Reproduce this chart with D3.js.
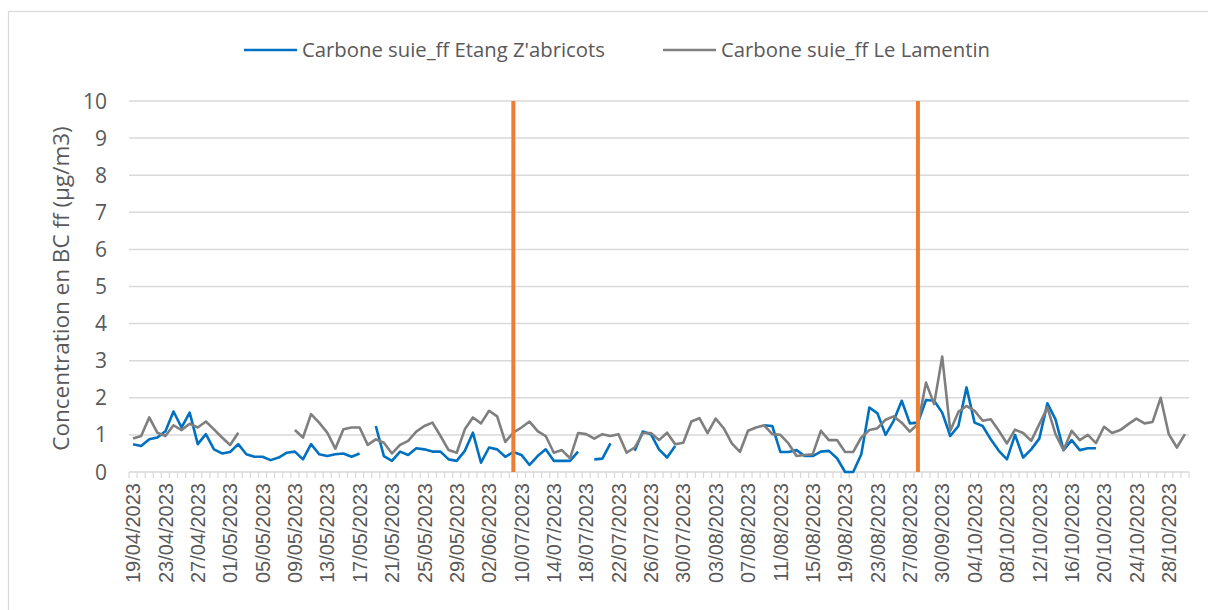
<!DOCTYPE html>
<html lang="fr">
<head>
<meta charset="UTF-8">
<title>Carbone suie ff</title>
<script src="https://d3js.org/d3.v7.min.js"></script>
<style>
  body { margin: 0; background: #fff; }
  svg { display: block; }
  .tick-x { font-family: "Liberation Sans", Arial, sans-serif; font-size: 20px; fill: #595959; }
  .tick-y { font-family: "Open Sans", sans-serif; font-size: 21px; fill: #595959; }
  .legend, .ytitle { font-family: "Open Sans", sans-serif; fill: #595959; }
</style>
</head>
<body>
<div id="chart"></div>
<script>
// date periods (dd/mm/yyyy), each one gives consecutive daily categories
const periods = [
  ["19/04/2023", "04/06/2023"],
  ["09/07/2023", "29/08/2023"],
  ["29/09/2023", "30/10/2023"]
];

// Carbone suie_ff Etang Z'abricots
const etang = [
  0.75, 0.70, 0.88, 0.93, 1.10, 1.63, 1.20, 1.60, 0.75, 1.02,
  0.61, 0.50, 0.54, 0.75, 0.48, 0.41, 0.41, 0.32, 0.39, 0.52,
  0.55, 0.34, 0.75, 0.48, 0.43, 0.48, 0.50, 0.41, 0.50, null,
  1.24, 0.43, 0.30, 0.55, 0.46, 0.64, 0.61, 0.55, 0.55, 0.34,
  0.30, 0.57, 1.06, 0.25, 0.66, 0.61, 0.41, 0.54, 0.46, 0.19,
  0.43, 0.61, 0.30, 0.30, 0.30, 0.55, null, 0.34, 0.36, 0.77,
  null, null, 0.57, 1.09, 1.02, 0.61, 0.39, 0.70, null, null,
  null, null, null, null, null, null, null, null, 1.26, 1.24,
  0.54, 0.54, 0.59, 0.43, 0.43, 0.55, 0.57, 0.37, 0.00, 0.00,
  0.48, 1.74, 1.58, 1.00, 1.38, 1.92, 1.31, 1.33, 1.94, 1.92,
  1.60, 0.97, 1.24, 2.28, 1.33, 1.24, 0.88, 0.57, 0.34, 1.00,
  0.39, 0.61, 0.90, 1.85, 1.42, 0.59, 0.86, 0.59, 0.64, 0.64,
  null, null, null, null, null, null, null, null, null, null,
  null
];

// Carbone suie_ff Le Lamentin
const lamentin = [
  0.90, 0.97, 1.47, 1.06, 0.97, 1.26, 1.13, 1.30, 1.20, 1.36,
  1.15, 0.93, 0.73, 1.06, null, null, null, null, null, null,
  1.13, 0.93, 1.56, 1.33, 1.06, 0.63, 1.15, 1.20, 1.20, 0.73,
  0.88, 0.79, 0.50, 0.73, 0.84, 1.09, 1.24, 1.33, 0.97, 0.59,
  0.52, 1.15, 1.47, 1.31, 1.65, 1.50, 0.81, 1.06, 1.20, 1.36,
  1.10, 0.97, 0.52, 0.59, 0.37, 1.05, 1.02, 0.90, 1.02, 0.97,
  1.02, 0.52, 0.66, 1.05, 1.05, 0.86, 1.06, 0.75, 0.79, 1.36,
  1.45, 1.05, 1.44, 1.18, 0.77, 0.54, 1.11, 1.20, 1.26, 1.02,
  1.00, 0.77, 0.43, 0.46, 0.48, 1.11, 0.86, 0.86, 0.54, 0.54,
  0.93, 1.13, 1.18, 1.41, 1.50, 1.33, 1.09, 1.29, 2.41, 1.83,
  3.11, 1.11, 1.62, 1.78, 1.65, 1.38, 1.42, 1.11, 0.77, 1.14,
  1.05, 0.84, 1.29, 1.74, 1.02, 0.59, 1.11, 0.86, 1.00, 0.78,
  1.22, 1.05, 1.13, 1.29, 1.44, 1.31, 1.35, 2.00, 1.02, 0.66,
  1.02
];

// vertical markers
const markers = ["09/07/2023", "28/08/2023"];

const yTicks = [0, 1, 2, 3, 4, 5, 6, 7, 8, 9, 10];
const seriesNames = ["Carbone suie_ff Etang Z'abricots", "Carbone suie_ff Le Lamentin"];
const yTitle = "Concentration en BC ff (µg/m3)";

const parse = d3.timeParse("%d/%m/%Y");
const fmt = d3.timeFormat("%d/%m/%Y");
const dates = periods.flatMap(p => d3.timeDay.range(parse(p[0]), d3.timeDay.offset(parse(p[1]), 1)).map(fmt));

const W = 1208, H = 610;
const svg = d3.select("#chart").append("svg").attr("width", W).attr("height", H);
svg.append("rect").attr("width", W).attr("height", H).attr("fill", "#fff");
svg.append("rect").attr("x", 8.5).attr("y", 11.5).attr("width", 1220).attr("height", 620)
  .attr("fill", "none").attr("stroke", "#D9D9D9").attr("stroke-width", 1.2);

const x = d3.scaleBand().domain(dates).range([129, 1189]);
const y = d3.scaleLinear().domain([0, 10]).range([472, 101]);
const cx = d => x(d) + x.bandwidth() / 2;

// gridlines
svg.append("g").selectAll("line").data(yTicks.slice(1)).join("line")
  .attr("x1", 129).attr("x2", 1189)
  .attr("y1", d => y(d)).attr("y2", d => y(d))
  .attr("stroke", "#D9D9D9").attr("stroke-width", 1.5);

// y labels
svg.append("g").selectAll("text").data(yTicks).join("text")
  .attr("class", "tick-y")
  .attr("x", 107).attr("y", d => y(d)).attr("dy", "0.36em")
  .attr("text-anchor", "end").text(d => d);

// x axis line + tick marks on category edges
svg.append("line").attr("x1", 129).attr("x2", 1189).attr("y1", y(0)).attr("y2", y(0))
  .attr("stroke", "#D9D9D9").attr("stroke-width", 1.5);
const edges = dates.map(d => x(d)).concat([x.range()[1]]);
svg.append("g").selectAll("line").data(edges).join("line")
  .attr("x1", d => d).attr("x2", d => d)
  .attr("y1", y(0)).attr("y2", y(0) + 6)
  .attr("stroke", "#D9D9D9").attr("stroke-width", 1.2);

// x labels every 4th category
svg.append("g").selectAll("text").data(dates.filter((d, i) => i % 4 === 0)).join("text")
  .attr("class", "tick-x")
  .attr("transform", d => `translate(${cx(d)},${y(0) + 11}) rotate(-90)`)
  .attr("text-anchor", "end").attr("dy", "0.36em")
  .text(d => d);

// y title
svg.append("text").attr("class", "ytitle")
  .attr("transform", `translate(61,${(y(0) + y(10)) / 2 + 2}) rotate(-90)`)
  .attr("text-anchor", "middle").attr("dy", "0.36em")
  .style("font-size", "22.5px")
  .text(yTitle);

// series lines
const line = d3.line()
  .defined(d => d.v != null)
  .x(d => cx(d.date))
  .y(d => y(d.v));

const colors = ["#0070C0", "#7F7F7F"];
[etang, lamentin].forEach((vals, k) => {
  svg.append("path")
    .datum(dates.map((date, i) => ({ date, v: vals[i] })))
    .attr("fill", "none")
    .attr("stroke", colors[k])
    .attr("stroke-width", 2.6)
    .attr("stroke-linejoin", "round")
    .attr("d", line);
});

// orange markers
svg.append("g").selectAll("line").data(markers).join("line")
  .attr("x1", d => cx(d)).attr("x2", d => cx(d))
  .attr("y1", y(10)).attr("y2", y(0))
  .attr("stroke", "#ED7D31").attr("stroke-width", 4);

// legend
const legend = svg.append("g");
const legendPos = [244, 663];
seriesNames.forEach((name, k) => {
  const g = legend.append("g").attr("transform", `translate(${legendPos[k]},50)`);
  g.append("line").attr("x1", 0).attr("x2", 53).attr("stroke", colors[k]).attr("stroke-width", 2.6);
  g.append("text").attr("class", "legend").attr("x", 58).attr("dy", "0.36em")
    .style("font-size", "20.3px").text(name);
});
</script>
</body>
</html>
